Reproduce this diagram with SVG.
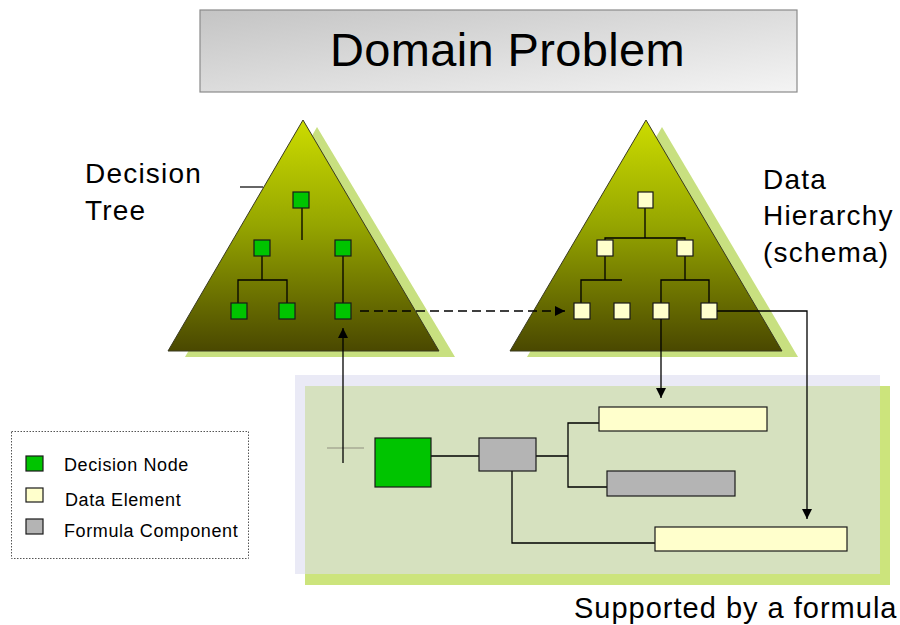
<svg xmlns="http://www.w3.org/2000/svg" width="900" height="625" viewBox="0 0 900 625">
  <defs>
    <linearGradient id="titleGrad" x1="0" y1="0" x2="1" y2="1">
      <stop offset="0" stop-color="#c4c4c4"/>
      <stop offset="1" stop-color="#f4f4f4"/>
    </linearGradient>
    <linearGradient id="pyramidGrad" x1="0" y1="0" x2="0" y2="1">
      <stop offset="0" stop-color="#ccdc00"/>
      <stop offset="0.45" stop-color="#96a600"/>
      <stop offset="1" stop-color="#4a4800"/>
    </linearGradient>
    <marker id="arrow" viewBox="0 0 10 10" refX="10" refY="5" markerWidth="10" markerHeight="10" markerUnits="userSpaceOnUse" orient="auto">
      <path d="M0,0 L10,5 L0,10 z" fill="#000"/>
    </marker>
  </defs>
  <style>
    .label { font-family: "Liberation Sans", Arial, sans-serif; fill: #000; }
    .big { font-size: 28px; letter-spacing: 1.2px; }
    .small { font-size: 18px; letter-spacing: 0.6px; }
    .pyramid { fill: url(#pyramidGrad); stroke: #3a3a20; stroke-width: 1; }
    .pshadow { fill: #c8e080; }
    .dnode { fill: #00c400; stroke: #1a1a1a; stroke-width: 1.2; }
    .enode { fill: #ffffcc; stroke: #1a1a1a; stroke-width: 1.2; }
    .fnode { fill: #b4b4b4; stroke: #1a1a1a; stroke-width: 1.2; }
    .link { fill: none; stroke: #000; stroke-width: 1.3; }
    .dash { fill: none; stroke: #000; stroke-width: 1.3; stroke-dasharray: 9 5; }
  </style>

  <rect width="900" height="625" fill="#fff"/>

  <!-- title banner -->
  <g id="title">
    <rect x="200" y="10" width="597" height="82" fill="url(#titleGrad)" stroke="#8a8a8a" stroke-width="1.2"/>
    <text class="label" x="330" y="66" font-size="47" letter-spacing="0.35">Domain Problem</text>
  </g>

  <!-- decision tree pyramid -->
  <g id="decision-tree">
    <polygon class="pshadow" points="317,127 185,357 455,357"/>
    <polygon class="pyramid" points="303,120 168,351 439,351"/>
    <text class="label big" x="85" y="183">Decision</text>
    <text class="label big" x="85" y="220">Tree</text>
    <line x1="240" y1="187" x2="263" y2="187" stroke="#000" stroke-width="1.2"/>
    <g class="tree-lines">
      <path class="link" d="M302,207 V240"/>
      <path class="link" d="M262,256 V280 M238,303 V280 H287 V303"/>
      <path class="link" d="M343,256 V303"/>
    </g>
    <rect id="dt-root" class="dnode" x="293" y="192" width="16" height="16"/>
    <rect id="dt-a" class="dnode" x="254" y="240" width="16" height="16"/>
    <rect id="dt-b" class="dnode" x="335" y="240" width="16" height="16"/>
    <rect id="dt-a1" class="dnode" x="231" y="303" width="16" height="16"/>
    <rect id="dt-a2" class="dnode" x="279" y="303" width="16" height="16"/>
    <rect id="dt-b1" class="dnode" x="335" y="303" width="16" height="16"/>
  </g>

  <!-- data hierarchy pyramid -->
  <g id="data-hierarchy">
    <polygon class="pshadow" points="662,127 527,357 798,357"/>
    <polygon class="pyramid" points="646,120 510,351 782,351"/>
    <text class="label big" x="763" y="189">Data</text>
    <text class="label big" x="763" y="225">Hierarchy</text>
    <text class="label big" x="763" y="262">(schema)</text>
    <g class="tree-lines">
      <path class="link" d="M645,207 V238 M605,240 V238 H685 V240"/>
      <path class="link" d="M605,256 V280 M581,303 V280 H622"/>
      <path class="link" d="M685,256 V280 M661,303 V280 H709 V303"/>
    </g>
    <rect id="dh-root" class="enode" x="638" y="192" width="15" height="16"/>
    <rect id="dh-a" class="enode" x="597" y="240" width="16" height="16"/>
    <rect id="dh-b" class="enode" x="677" y="240" width="16" height="16"/>
    <rect id="dh-a1" class="enode" x="574" y="303" width="16" height="16"/>
    <rect id="dh-a2" class="enode" x="614" y="303" width="16" height="16"/>
    <rect id="dh-b1" class="enode" x="653" y="303" width="16" height="16"/>
    <rect id="dh-b2" class="enode" x="701" y="303" width="16" height="16"/>
  </g>

  <!-- formula panel -->
  <g id="formula-panel">
    <rect x="305" y="386" width="585" height="199" fill="#cce47c"/>
    <rect x="295" y="375" width="585" height="199" fill="#eaeaf6"/>
    <rect x="305" y="386" width="575" height="188" fill="#d6e1bf"/>
    <line x1="327" y1="448" x2="364" y2="448" stroke="#909080" stroke-width="1.2"/>
    <g class="tree-lines">
      <path class="link" d="M431,456 H479"/>
      <path class="link" d="M536,456 H568 M600,423 H568 V487 H608"/>
      <path class="link" d="M512,471 V543 H656"/>
    </g>
    <rect id="f-decision" class="dnode" x="375" y="438" width="56" height="49"/>
    <rect id="f-formula" class="fnode" x="479" y="438" width="57" height="33"/>
    <rect id="f-element1" class="enode" x="599" y="407" width="168" height="24"/>
    <rect id="f-formula2" class="fnode" x="607" y="471" width="128" height="25"/>
    <rect id="f-element2" class="enode" x="655" y="527" width="192" height="24"/>
    <text class="label" x="574" y="618" font-size="29" letter-spacing="1">Supported by a formula</text>
  </g>

  <!-- legend -->
  <g id="legend">
    <rect x="11.5" y="431.5" width="237" height="127" fill="#fff" stroke="#555" stroke-width="1" stroke-dasharray="1.5 1.5"/>
    <rect class="dnode" x="26" y="456" width="17" height="15"/>
    <rect class="enode" x="26" y="488" width="17" height="14"/>
    <rect class="fnode" x="26" y="519" width="17" height="15"/>
    <text class="label small" x="64" y="471">Decision Node</text>
    <text class="label small" x="65" y="506">Data Element</text>
    <text class="label small" x="64" y="537">Formula Component</text>
  </g>

  <!-- connectors between the views -->
  <g id="connectors">
    <path class="dash" d="M360,311 H565" marker-end="url(#arrow)"/>
    <path class="link" d="M343,463 V328" marker-end="url(#arrow)"/>
    <path class="link" d="M661,319 V398" marker-end="url(#arrow)"/>
    <path class="link" d="M717,311 H807 V519" marker-end="url(#arrow)"/>
  </g>
</svg>
